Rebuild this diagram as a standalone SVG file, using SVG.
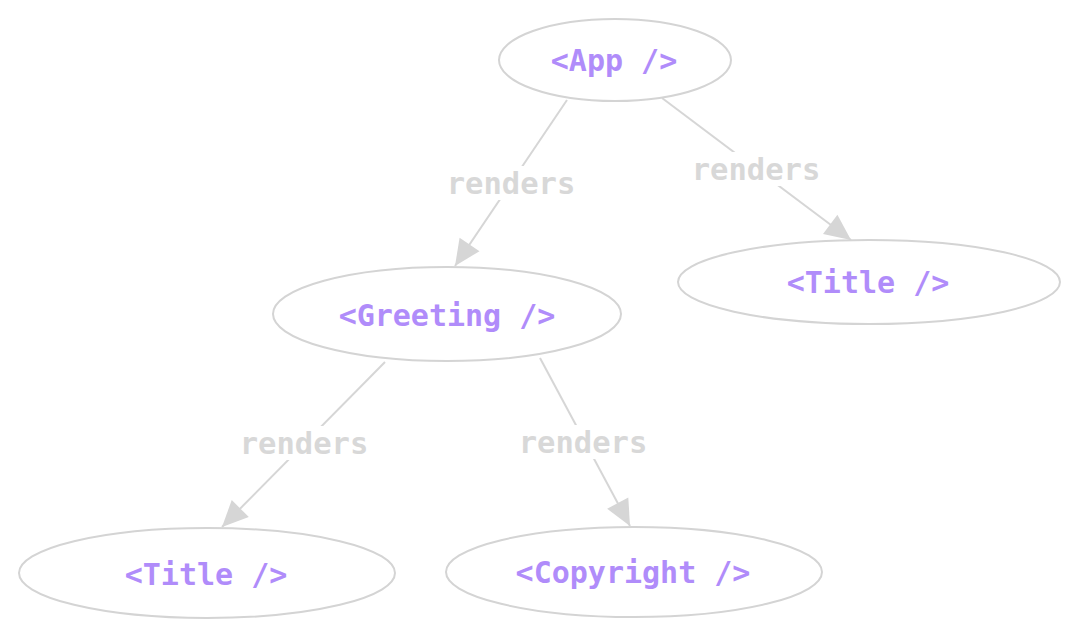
<svg xmlns="http://www.w3.org/2000/svg" width="1080" height="638" viewBox="0 0 1080 638">
<style>
.node ellipse{fill:#fff;stroke:#d4d4d4;stroke-width:2}
.node text{font-family:"DejaVu Sans Mono","Liberation Mono",monospace;font-size:30px;font-weight:bold;fill:#b08cfa;text-anchor:middle;dominant-baseline:central}
.edge{stroke:#d6d6d6;stroke-width:2;fill:none}
.lbl{font-family:"DejaVu Sans Mono","Liberation Mono",monospace;font-size:30.5px;font-weight:bold;fill:#d8d8d8;text-anchor:middle;dominant-baseline:central}
.bg{fill:#fff}
</style>
<defs>
<marker id="ah" markerUnits="userSpaceOnUse" markerWidth="30" markerHeight="30" viewBox="0 0 30 30" refX="28" refY="15" orient="auto">
<path d="M2,3 L28,15 L2,27 Z" fill="#d6d6d6"/>
</marker>
</defs>
<rect width="1080" height="638" fill="#fff"/>
<g id="connectors">
<path class="edge" d="M567,100 L455,266" marker-end="url(#ah)"/>
<path class="edge" d="M662,98 L851,240" marker-end="url(#ah)"/>
<path class="edge" d="M385,362 L222,527" marker-end="url(#ah)"/>
<path class="edge" d="M540,358 L630,526" marker-end="url(#ah)"/>
<rect class="bg" x="443" y="166" width="136" height="34"/>
<text class="lbl" x="511" y="183">renders</text>
<rect class="bg" x="688" y="152" width="136" height="34"/>
<text class="lbl" x="756" y="169">renders</text>
<rect class="bg" x="236" y="426" width="136" height="34"/>
<text class="lbl" x="304" y="443">renders</text>
<rect class="bg" x="515" y="425" width="136" height="34"/>
<text class="lbl" x="583" y="442">renders</text>
</g>
<g id="app" class="node"><ellipse cx="615" cy="60" rx="116" ry="41"/><text x="614" y="60">&lt;App /&gt;</text></g>
<g id="title-right" class="node"><ellipse cx="869" cy="282" rx="191" ry="42"/><text x="868" y="282">&lt;Title /&gt;</text></g>
<g id="greeting" class="node"><ellipse cx="447" cy="314" rx="174" ry="47"/><text x="447" y="315">&lt;Greeting /&gt;</text></g>
<g id="title-left" class="node"><ellipse cx="207" cy="573" rx="188" ry="45"/><text x="206" y="574">&lt;Title /&gt;</text></g>
<g id="copyright" class="node"><ellipse cx="634" cy="572" rx="188" ry="45"/><text x="633" y="572">&lt;Copyright /&gt;</text></g>
</svg>
